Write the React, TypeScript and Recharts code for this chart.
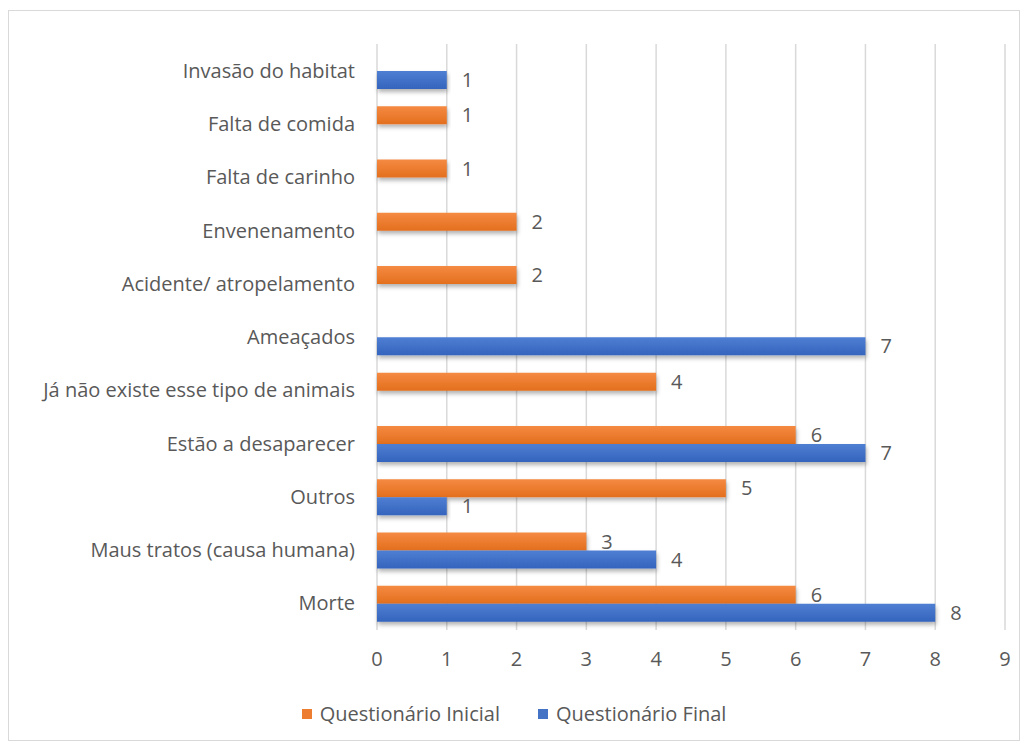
import React from "react";
import {
  Bar,
  BarChart,
  CartesianGrid,
  LabelList,
  Legend,
  XAxis,
  YAxis
} from "recharts";

const categories = [
  "Invasão do habitat",
  "Falta de comida",
  "Falta de carinho",
  "Envenenamento",
  "Acidente/ atropelamento",
  "Ameaçados",
  "Já não existe esse tipo de animais",
  "Estão a desaparecer",
  "Outros",
  "Maus tratos (causa humana)",
  "Morte"
];

const inicial = [null, 1, 1, 2, 2, null, 4, 6, 5, 3, 6];
const final = [1, null, null, null, null, 7, null, 7, 1, 4, 8];

const xTicks = [0, 1, 2, 3, 4, 5, 6, 7, 8, 9];

const seriesNames = ["Questionário Inicial", "Questionário Final"];
const seriesColors = ["#ED7D31", "#4472C4"];

const data = categories.map((name, i) => ({
  name,
  inicial: inicial[i],
  final: final[i]
}));

const textColor = "#595959";
const font = "'Open Sans', sans-serif";
const fs = 20;

const hideZero = (v: any) => (v ? v : "");

function LegendContent() {
  return (
    <div style={{ display: "flex", justifyContent: "center", fontFamily: font, fontSize: fs, color: textColor }}>
      {seriesNames.map((n, i) => (
        <div key={n} style={{ display: "flex", alignItems: "center", margin: "0 19px" }}>
          <span style={{ width: 10, height: 10, background: seriesColors[i], display: "inline-block", marginRight: 8 }} />
          <span>{n}</span>
        </div>
      ))}
    </div>
  );
}

export default function App() {
  return (
    <div
      style={{
        position: "absolute",
        left: 0,
        top: 0,
        width: 1028,
        height: 749,
        background: "#fff",
        fontFamily: font
      }}
    >
      <div
        style={{
          position: "absolute",
          left: 8,
          top: 10,
          width: 1010,
          height: 729,
          border: "1px solid #d9d9d9"
        }}
      />
      <BarChart
        width={1028}
        height={749}
        data={data}
        layout="vertical"
        barSize={18}
        barGap={0}
        margin={{ top: 44, right: 23, left: 0, bottom: 62 }}
        style={{ position: "absolute", left: 0, top: 0 }}
      >
        <defs>
          <linearGradient id="gOrange" x1="0" y1="0" x2="0" y2="1">
            <stop offset="0%" stopColor="#F58A42" />
            <stop offset="100%" stopColor="#E36F1E" />
          </linearGradient>
          <linearGradient id="gBlue" x1="0" y1="0" x2="0" y2="1">
            <stop offset="0%" stopColor="#4F7FD3" />
            <stop offset="100%" stopColor="#3464BD" />
          </linearGradient>
          <filter id="shadow" x="-5%" y="-30%" width="110%" height="180%">
            <feDropShadow dx="1" dy="3" stdDeviation="2" floodColor="#000" floodOpacity="0.3" />
          </filter>
        </defs>
        <CartesianGrid horizontal={false} stroke="#d9d9d9" strokeWidth={1.5} />
        <XAxis
          type="number"
          domain={[0, 9]}
          ticks={xTicks}
          interval={0}
          axisLine={false}
          tickLine={false}
          tickSize={0}
          tickMargin={22}
          tick={{ fill: textColor, fontSize: fs, fontFamily: font }}
        />
        <YAxis
          type="category"
          dataKey="name"
          width={377}
          axisLine={false}
          tickLine={false}
          tickSize={0}
          tickMargin={22}
          interval={0}
          tick={{ fill: textColor, fontSize: fs, fontFamily: font }}
        />
        <Legend
          verticalAlign="bottom"
          content={<LegendContent />}
          wrapperStyle={{ top: 700, left: 0, width: 1028 }}
        />
        <Bar
          dataKey="inicial"
          name={seriesNames[0]}
          fill="url(#gOrange)"
          filter="url(#shadow)"
          isAnimationActive={false}
        >
          <LabelList
            dataKey="inicial"
            position="right"
            offset={15}
            formatter={hideZero}
            style={{ fill: textColor, fontSize: fs, fontFamily: font }}
          />
        </Bar>
        <Bar
          dataKey="final"
          name={seriesNames[1]}
          fill="url(#gBlue)"
          filter="url(#shadow)"
          isAnimationActive={false}
        >
          <LabelList
            dataKey="final"
            position="right"
            offset={15}
            formatter={hideZero}
            style={{ fill: textColor, fontSize: fs, fontFamily: font }}
          />
        </Bar>
      </BarChart>
    </div>
  );
}
